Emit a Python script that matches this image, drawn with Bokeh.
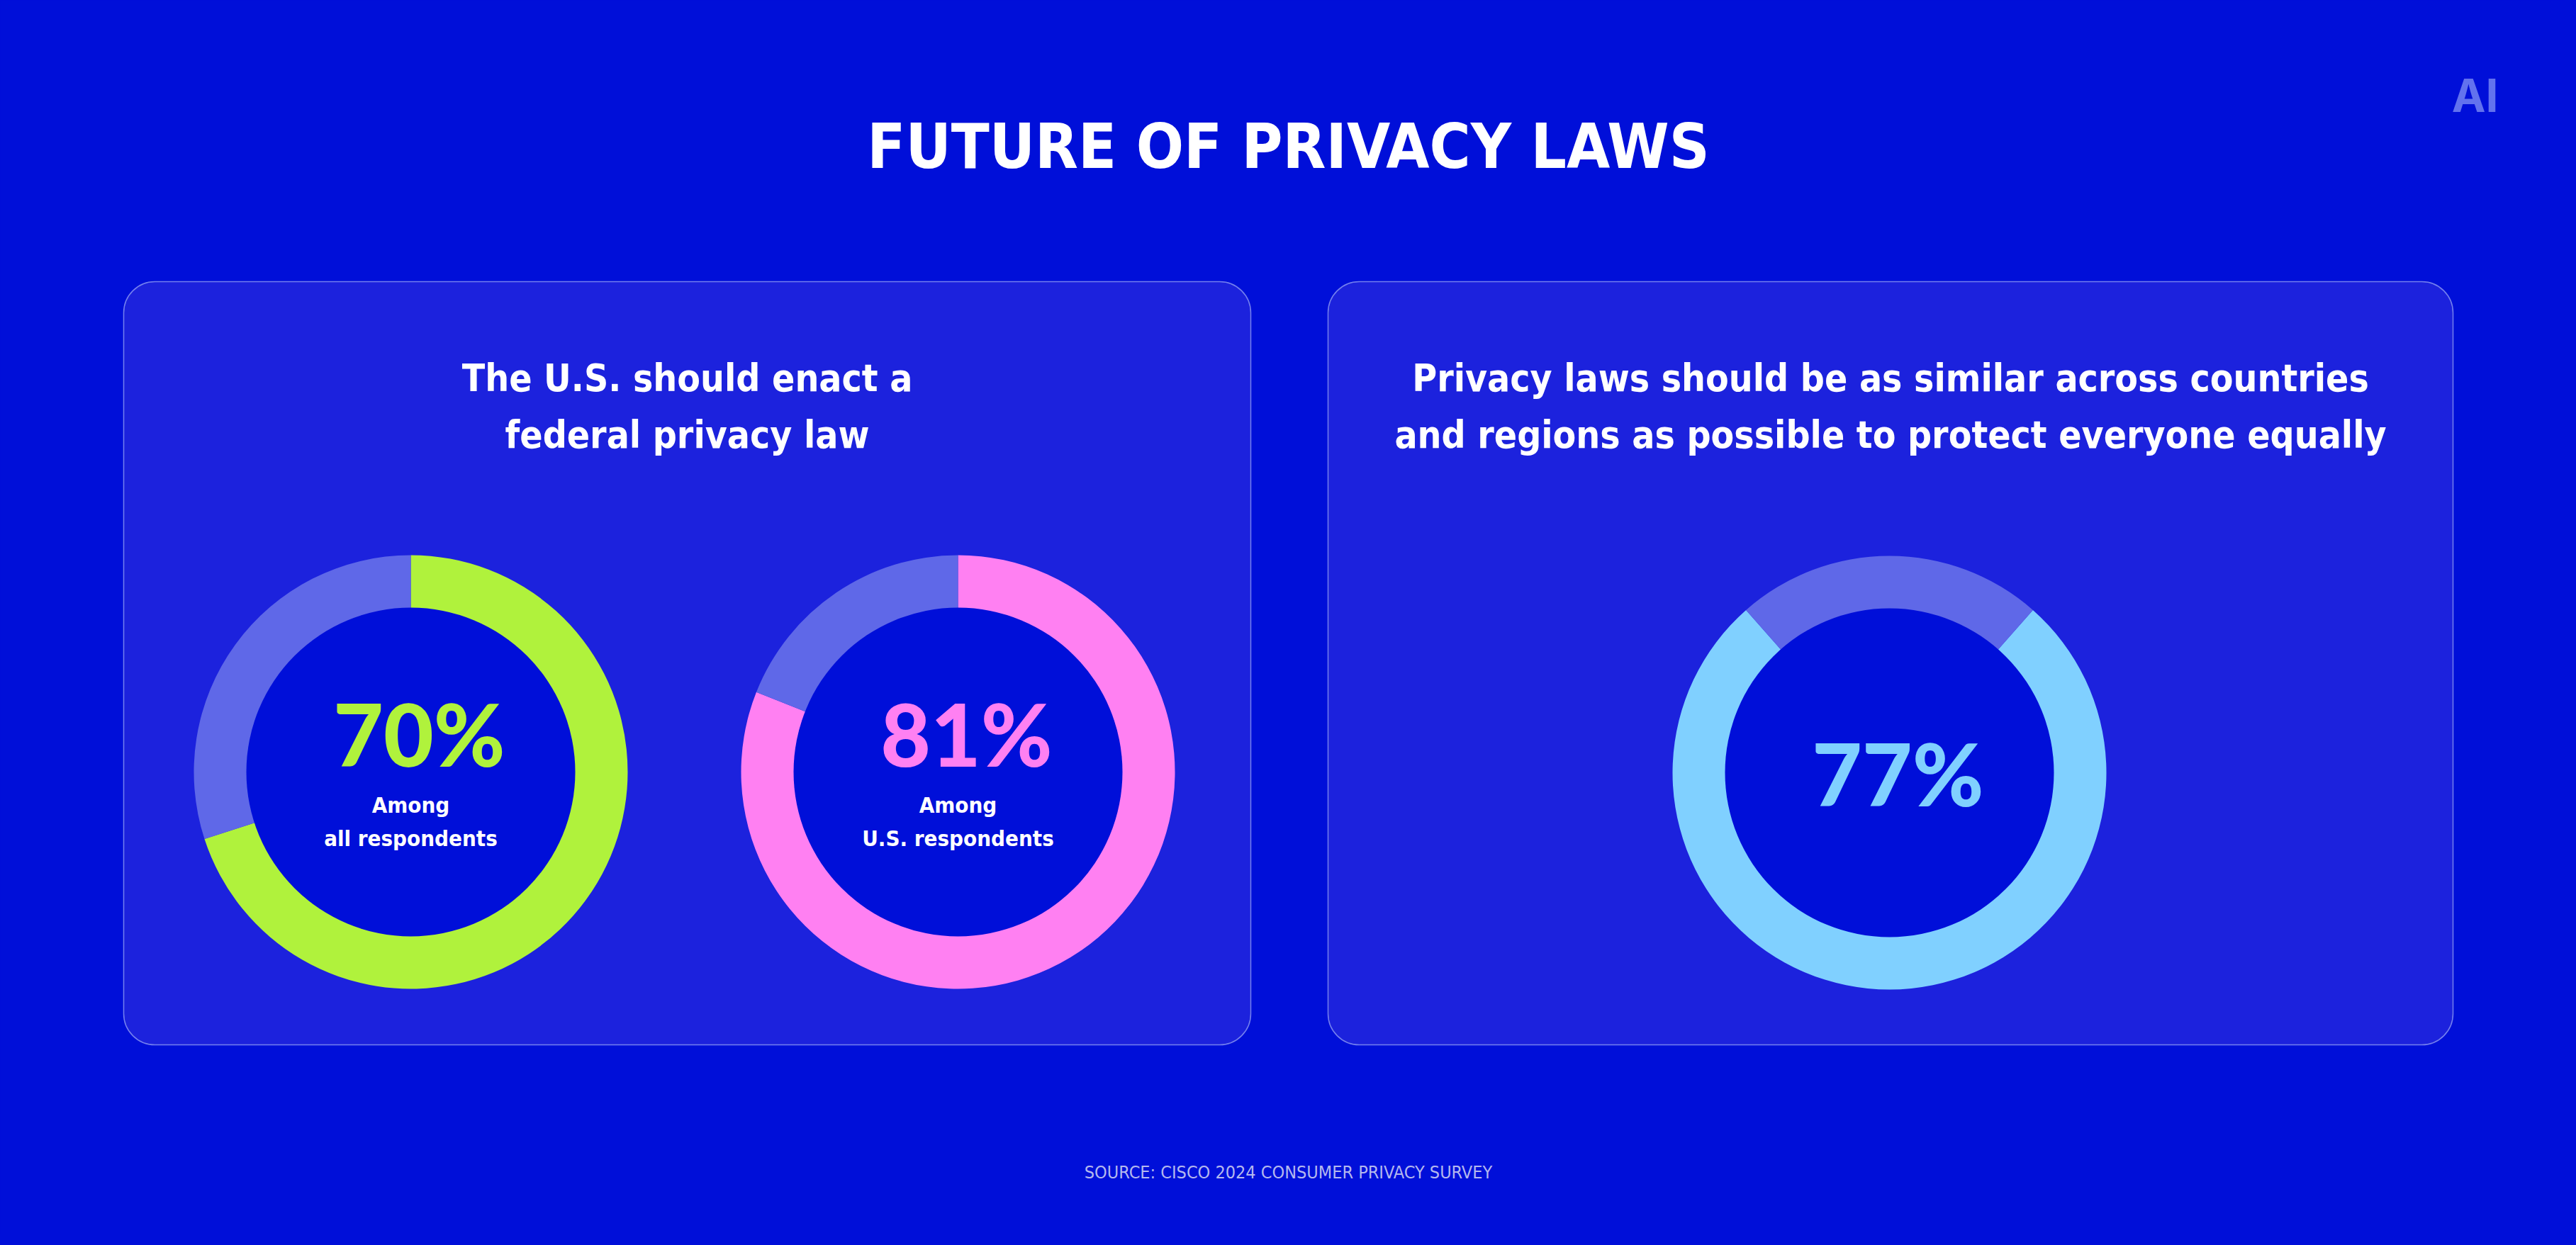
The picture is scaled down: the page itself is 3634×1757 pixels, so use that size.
import math
from bokeh.plotting import figure
from bokeh.models import Range1d
from bokeh.core.properties import value
from bokeh.embed import file_html
from bokeh.resources import INLINE

# ---------------- data ----------------
title = "FUTURE OF PRIVACY LAWS"
panel_headings = [
    ["The U.S. should enact a", "federal privacy law"],
    ["Privacy laws should be as similar across countries",
     "and regions as possible to protect everyone equally"],
]
shares = [70, 81, 77]
share_labels = ["70%", "81%", "77%"]
sub_labels = [["Among", "all respondents"], ["Among", "U.S. respondents"], []]
source_note = "SOURCE: CISCO 2024 CONSUMER PRIVACY SURVEY"
logo_text = "AI"

# ---------------- style ----------------
BG = "#000fd9"
PANEL = "#1c22dd"
PANEL_LINE = "#7480ee"
REST = "#5f68e8"
ring_colors = ["#b0f23c", "#ff80f2", "#80d0ff"]
ring_modes = ["top", "top", "centered"]
COND = "DejaVu Sans Condensed, Roboto"
NUMF = "Lato Black, Inter"
LOGOF = "Inter"

PAGE_W, PAGE_H = 3634, 1757
W, H = PAGE_W - 16, PAGE_H - 16
BASE_SHIFT = 0.40  # em offset of rendered baseline

def Y(ys):
    return H - ys

def label(x, ys, txt, font, size, color, bold=True):
    # ys: wanted screen baseline
    p.text(x=[x], y=[Y(ys - BASE_SHIFT * size)], text=[txt], text_font=value(font),
           text_font_style="bold" if bold else "normal", text_font_size="%dpx" % size,
           text_color=color, text_align="center", text_baseline="alphabetic")

p = figure(width=W, height=H, x_range=Range1d(0, W), y_range=Range1d(0, H),
           output_backend="svg", toolbar_location=None, min_border=0)
p.axis.visible = False
p.grid.visible = False
p.outline_line_color = None
p.background_fill_color = BG
p.border_fill_color = BG

# panels
panels = [(174, 1764), (1873, 3460)]
p_top, p_bot = 397, 1474
for (l, r) in panels:
    p.quad(left=l, right=r, top=Y(p_top), bottom=Y(p_bot), fill_color=PANEL,
           line_color=PANEL_LINE, line_width=1.5, border_radius=44)

# title and logo
label(PAGE_W / 2, 241, title, COND, 88, "white")
label(3491, 160, logo_text, LOGOF, 64, "#6272ee")

# headings
for (l, r), lines in zip(panels, panel_headings):
    cx = (l + r) / 2
    for i, ln in enumerate(lines):
        label(cx, 554 + 80 * i, ln, COND, 53, "white")

# donuts
centers = [(579, 1089), (1351, 1089), (2665, 1090)]
R_OUT, R_IN = 306, 232
for (cx, cy), s, col, mode, lab, subs in zip(centers, shares, ring_colors, ring_modes,
                                              share_labels, sub_labels):
    f = s / 100.0
    if mode == "top":
        v0, v1 = math.pi / 2 - 2 * math.pi * f, math.pi / 2
    else:
        g = 2 * math.pi * (1 - f)
        v0, v1 = math.pi / 2 + g / 2, math.pi / 2 - g / 2 + 2 * math.pi
    r0, r1 = v1, v0 + 2 * math.pi
    p.annular_wedge(x=cx, y=Y(cy), inner_radius=R_IN - 1, outer_radius=R_OUT,
                    start_angle=v0, end_angle=v1, direction="anticlock",
                    fill_color=col, line_color=None)
    p.annular_wedge(x=cx, y=Y(cy), inner_radius=R_IN - 1, outer_radius=R_OUT,
                    start_angle=r0, end_angle=r1, direction="anticlock",
                    fill_color=REST, line_color=None)
    p.circle(x=cx, y=Y(cy), radius=R_IN, fill_color=BG, line_color=None)
    if subs:
        label(cx + 12, 1083, lab, NUMF, 122, col)
        for i, sl in enumerate(subs):
            label(cx, 1148 + 47 * i, sl, COND, 31, "white")
    else:
        label(cx + 12, 1139, lab, NUMF, 122, col)

# source
label(PAGE_W / 2, 1664, source_note, COND, 25, "#b4b8ee", bold=False)

html = file_html(p, INLINE, title="Future of privacy laws")
html = html.replace("</head>", "<style>html, body { background: %s; }</style></head>" % BG, 1)
open("out.html", "w").write(html)
